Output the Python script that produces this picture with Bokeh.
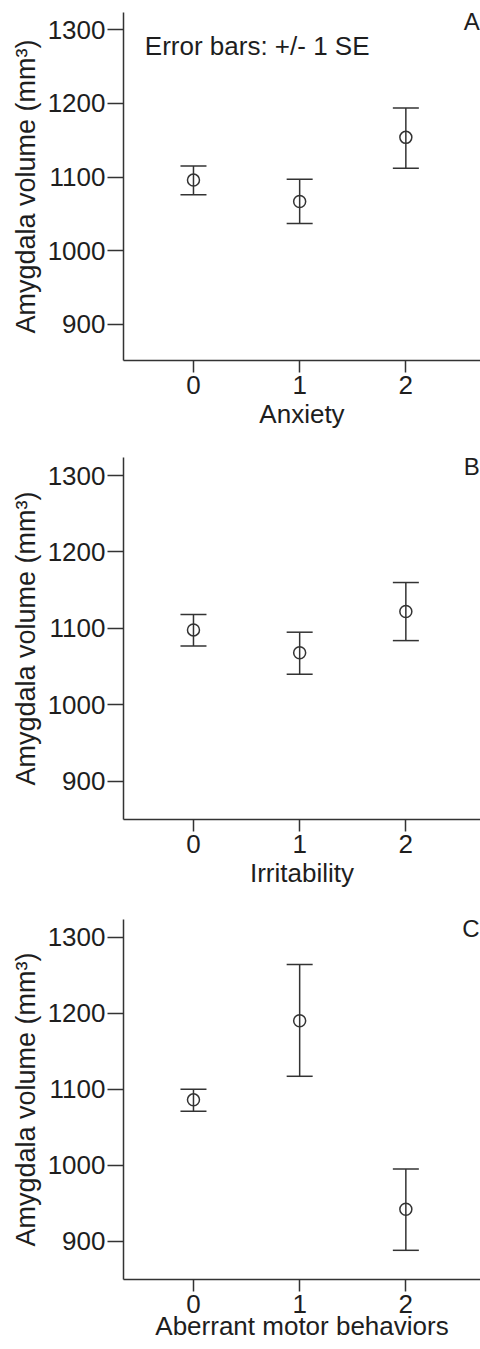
from bokeh.plotting import figure
from bokeh.layouts import column
from bokeh.models import ColumnDataSource, Whisker, TeeHead, Label, FixedTicker, Range1d
from bokeh.embed import file_html
from bokeh.resources import INLINE

# ---- data ----
levels = [0, 1, 2]
y_ticks = [900, 1000, 1100, 1200, 1300]

anxiety_mean = [1096, 1067, 1154]
anxiety_lower = [1076, 1037, 1112]
anxiety_upper = [1115, 1097, 1194]

irritability_mean = [1098, 1068, 1122]
irritability_lower = [1077, 1040, 1084]
irritability_upper = [1118, 1095, 1160]

motor_mean = [1086, 1190, 942]
motor_lower = [1071, 1117, 888]
motor_upper = [1100, 1264, 995]

x_labels = ["Anxiety", "Irritability", "Aberrant motor behaviors"]
panel_letters = ["A", "B", "C"]
y_label = "Amygdala volume (mm\u00b3)"
note_text = "Error bars: +/- 1 SE"

FONT = "Liberation Sans"
INK = "#333333"
TXT = "#1e1e1e"


def make_panel(means, lower, upper, xlabel, letter, height, top, bottom,
               yr, xlab_standoff=2, note=False):
    p = figure(width=480, height=height, output_backend="svg",
               toolbar_location=None,
               x_range=Range1d(-0.659, 2.703), y_range=Range1d(*yr),
               min_border_left=123, min_border_right=0,
               min_border_top=top, min_border_bottom=bottom)
    p.outline_line_color = None
    p.xgrid.visible = False
    p.ygrid.visible = False
    p.background_fill_color = "white"
    p.border_fill_color = "white"
    ppu = (height - top - bottom) / (yr[1] - yr[0])  # pixels per data unit

    src = ColumnDataSource(dict(x=levels, mean=means, lower=lower, upper=upper))
    p.add_layout(Whisker(base="x", upper="upper", lower="lower", source=src,
                         line_color=INK, line_width=1.5,
                         upper_head=TeeHead(size=26, line_color=INK, line_width=1.5),
                         lower_head=TeeHead(size=26, line_color=INK, line_width=1.5)))
    p.scatter("x", "mean", source=src, marker="circle", size=12,
              fill_color=None, line_color=INK, line_width=1.5)

    for ax in (p.xaxis[0], p.yaxis[0]):
        ax.axis_line_color = INK
        ax.axis_line_width = 1.5
        ax.major_tick_line_color = INK
        ax.major_tick_line_width = 1.5
        ax.major_tick_in = 0
        ax.minor_tick_line_color = None
        ax.major_label_text_font = FONT
        ax.major_label_text_font_size = "26px"
        ax.major_label_text_color = TXT
        ax.axis_label_text_font = FONT
        ax.axis_label_text_font_style = "normal"
        ax.axis_label_text_color = TXT

    p.xaxis.ticker = FixedTicker(ticks=levels)
    p.xaxis.major_tick_out = 12
    p.xaxis.major_label_standoff = 3
    p.xaxis.axis_label = xlabel
    p.xaxis.axis_label_text_font_size = "26px"
    p.xaxis.axis_label_standoff = xlab_standoff

    p.yaxis.ticker = FixedTicker(ticks=y_ticks)
    p.yaxis.major_tick_out = 16
    p.yaxis.major_label_standoff = 2
    p.yaxis.axis_label = y_label
    p.yaxis.axis_label_text_font_size = "27px"
    p.yaxis.axis_label_standoff = 4

    p.add_layout(Label(x=2.695, y=yr[1] - 9 / ppu, text=letter, text_align="right",
                       text_baseline="alphabetic", text_font=FONT,
                       text_font_size="24px", text_color=TXT))
    if note:
        p.add_layout(Label(x=-0.458, y=yr[1] - 33 / ppu, text=note_text,
                           text_align="left", text_baseline="alphabetic",
                           text_font=FONT, text_font_size="26px", text_color=TXT))
    return p


pA = make_panel(anxiety_mean, anxiety_lower, anxiety_upper, x_labels[0],
                panel_letters[0], 447, 12, 87, (851.1, 1323.5), note=True)
pB = make_panel(irritability_mean, irritability_lower, irritability_upper,
                x_labels[1], panel_letters[1], 462, 10, 90, (849.9, 1323.6))
pC = make_panel(motor_mean, motor_lower, motor_upper, x_labels[2],
                panel_letters[2], 439, 10, 69, (849.6, 1323.3),
                xlab_standoff=-5)

layout = column(pA, pB, pC, spacing=0)
open("out.html", "w").write(file_html(layout, INLINE))
